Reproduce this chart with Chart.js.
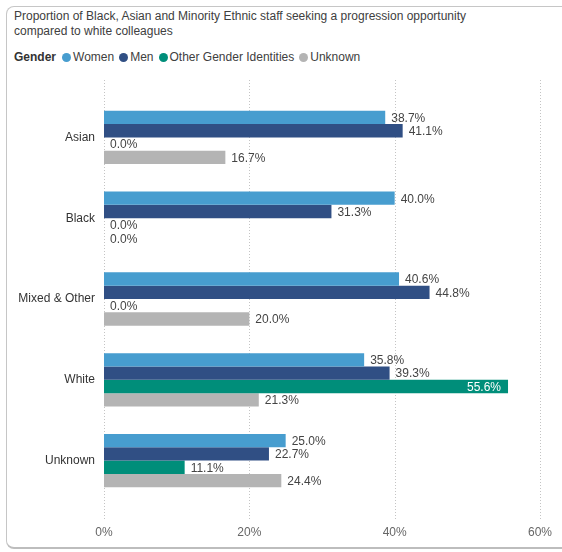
<!DOCTYPE html>
<html>
<head>
<meta charset="utf-8">
<script src="https://cdn.jsdelivr.net/npm/chart.js@4.4.1/dist/chart.umd.min.js"></script>
<style>
  body { margin: 0; background: #fff; font-family: "Liberation Sans", Arial, sans-serif; }
  #wrap { position: relative; width: 562px; height: 552px; overflow: hidden; }
  #frame {
    position: absolute; left: 6px; top: 6px; width: 580px; height: 540px;
    border: 1px solid #c6c6c6; border-bottom: 2px solid #bdbdbd; border-radius: 8px;
  }
  #title { position: absolute; left: 14px; top: 9px; font-size: 12px; line-height: 15px; color: #404040; }
  #legend { position: absolute; left: 14px; top: 50px; font-size: 12px; color: #404040; display: flex; align-items: center; }
  #legend b { margin-right: 6px; color: #333; }
  #legend .item { display: flex; align-items: center; margin-right: 5px; }
  #legend .dot { width: 9px; height: 9px; border-radius: 50%; margin-right: 2px; }
  canvas { position: absolute; left: 0; top: 0; }
</style>
</head>
<body>
<div id="wrap">
  <div id="frame"></div>
  <div id="title">Proportion of Black, Asian and Minority Ethnic staff seeking a progression opportunity<br>compared to white colleagues</div>
  <div id="legend"><b>Gender</b></div>
  <canvas id="chart" width="562" height="552"></canvas>
</div>
<script>
// Ethnicity groups and the share of staff seeking progression, by gender
const groups = ['Asian', 'Black', 'Mixed & Other', 'White', 'Unknown'];
const women = [38.7, 40.0, 40.6, 35.8, 25.0];
const men = [41.1, 31.3, 44.8, 39.3, 22.7];
const otherGender = [0.0, 0.0, 0.0, 55.6, 11.1];
const unknownGender = [16.7, 0.0, 20.0, 21.3, 24.4];
const xTicks = [0, 20, 40, 60];

const series = [
    { label: 'Women', data: women, color: '#479dcf' },
    { label: 'Men', data: men, color: '#304f84' },
    { label: 'Other Gender Identities', data: otherGender, color: '#008e7a' },
    { label: 'Unknown', data: unknownGender, color: '#b4b4b4' }
];

const fontFamily = '"Liberation Sans", Arial, sans-serif';

// Legend row
const legend = document.getElementById('legend');
series.forEach(s => {
    const item = document.createElement('span');
    item.className = 'item';
    item.innerHTML = '<span class="dot" style="background:' + s.color + '"></span>' + s.label;
    legend.appendChild(item);
});

// Dotted gridlines that run a little past the plot area
const dottedGrid = {
    id: 'dottedGrid',
    beforeDatasetsDraw(chart) {
        const ctx = chart.ctx;
        const area = chart.chartArea;
        const x = chart.scales.x;
        ctx.save();
        ctx.strokeStyle = '#c4c4c4';
        ctx.lineWidth = 1;
        ctx.setLineDash([1, 2]);
        xTicks.forEach(v => {
            const px = Math.round(x.getPixelForValue(v)) + 0.5;
            ctx.beginPath();
            ctx.moveTo(px, area.top - 17);
            ctx.lineTo(px, area.bottom + 19);
            ctx.stroke();
        });
        ctx.restore();
    }
};

// Value labels at the end of each bar
const valueLabels = {
    id: 'valueLabels',
    afterDatasetsDraw(chart) {
        const ctx = chart.ctx;
        const area = chart.chartArea;
        ctx.save();
        ctx.font = '12px ' + fontFamily;
        ctx.textBaseline = 'middle';
        chart.data.datasets.forEach((ds, i) => {
            chart.getDatasetMeta(i).data.forEach((bar, j) => {
                const text = ds.data[j].toFixed(1) + '%';
                const w = ctx.measureText(text).width;
                if (bar.x + 6 + w > area.right) {
                    ctx.fillStyle = '#fff';
                    ctx.textAlign = 'right';
                    ctx.fillText(text, bar.x - 7, bar.y + 1);
                } else {
                    ctx.fillStyle = '#444';
                    ctx.textAlign = 'left';
                    ctx.fillText(text, bar.x + 6, bar.y + 1);
                }
            });
        });
        ctx.restore();
    }
};

new Chart(document.getElementById('chart'), {
    type: 'bar',
    data: {
        labels: groups,
        datasets: series.map(s => ({
            label: s.label,
            data: s.data,
            backgroundColor: s.color,
            borderWidth: 0,
            categoryPercentage: 0.66,
            barPercentage: 1.0
        }))
    },
    options: {
        indexAxis: 'y',
        responsive: false,
        animation: false,
        layout: { padding: { top: 97, right: 22, left: 0, bottom: 0 } },
        plugins: {
            legend: { display: false },
            tooltip: { enabled: false }
        },
        scales: {
            x: {
                min: 0,
                max: 60,
                afterFit: s => {
                    s.height = 51;
                    s.paddingLeft = 0;
                    s.paddingRight = 0;
                },
                afterBuildTicks: s => { s.ticks = xTicks.map(v => ({ value: v })); },
                grid: { display: false, drawTicks: false },
                border: { display: false },
                ticks: {
                    padding: 24,
                    color: '#666',
                    font: { size: 12, family: fontFamily },
                    callback: v => v + '%'
                }
            },
            y: {
                afterFit: s => { s.width = 104; },
                grid: { display: false, drawTicks: false },
                border: { display: false },
                ticks: {
                    padding: 9,
                    color: '#333',
                    font: { size: 12, family: fontFamily }
                }
            }
        }
    },
    plugins: [dottedGrid, valueLabels]
});
</script>
</body>
</html>
